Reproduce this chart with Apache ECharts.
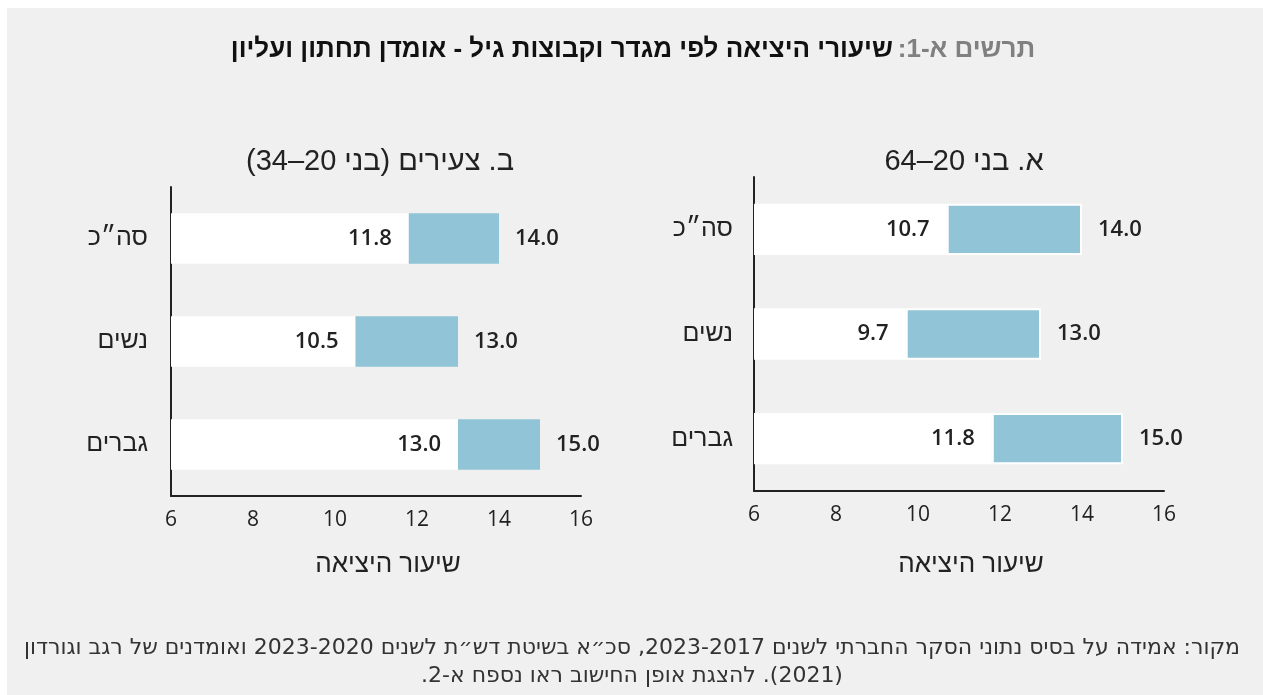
<!DOCTYPE html>
<html lang="he">
<head>
<meta charset="utf-8">
<script src="https://cdn.jsdelivr.net/npm/echarts@6/dist/echarts.min.js"></script>
<style>
  html, body { margin: 0; padding: 0; background: #fff; }
  #chart { width: 1263px; height: 695px; direction: rtl; }
</style>
</head>
<body>
<div id="chart"></div>
<script>
// קטגוריות
const categories = ['סה״כ', 'נשים', 'גברים']
// א. בני 20–64
const lowA = [10.7, 9.7, 11.8]
const highA = [14.0, 13.0, 15.0]
// ב. צעירים (בני 20–34)
const lowB = [11.8, 10.5, 13.0]
const highB = [14.0, 13.0, 15.0]
const xTicks = [6, 8, 10, 12, 14, 16]

const blue = '#90c4d6'
const ink = '#222'
const hebFont = '"Liberation Sans", "DejaVu Sans", sans-serif'
const numFont = '"Open Sans", "Liberation Sans", sans-serif'

const chart = echarts.init(document.getElementById('chart'), null, { renderer: 'canvas' })

function diff (hi, lo) {
  return hi.map((v, i) => +(v - lo[i]).toFixed(1))
}

function xAxisOf (gridIndex, gap) {
  return {
    type: 'value',
    gridIndex: gridIndex,
    min: xTicks[0],
    max: xTicks[xTicks.length - 1],
    interval: 2,
    splitLine: { show: false },
    axisTick: { show: false },
    axisLine: { show: true, lineStyle: { color: ink, width: 2 } },
    axisLabel: { color: ink, fontSize: 21, fontWeight: 500, fontFamily: numFont, margin: 14 },
    name: 'שיעור היציאה',
    nameLocation: 'middle',
    nameGap: gap,
    nameTextStyle: { color: ink, fontSize: 26, fontFamily: hebFont, padding: [0, 0, 0, 24] }
  }
}

function yAxisOf (gridIndex, margin) {
  return {
    type: 'category',
    gridIndex: gridIndex,
    data: categories,
    inverse: true,
    axisTick: { show: false },
    axisLine: { show: true, lineStyle: { color: ink, width: 2 } },
    axisLabel: { color: ink, fontSize: 25, fontFamily: hebFont, margin: margin }
  }
}

function seriesOf (idx, lo, hi, border) {
  return [
    {
      type: 'bar',
      xAxisIndex: idx,
      yAxisIndex: idx,
      stack: 'g' + idx,
      data: lo,
      barWidth: '49%',
      itemStyle: { color: '#fff' },
      label: {
        show: true,
        position: 'insideRight',
        distance: 17,
        color: ink,
        fontSize: 22,
        fontWeight: 600,
        fontFamily: numFont,
        formatter: p => lo[p.dataIndex].toFixed(1)
      },
      silent: true
    },
    {
      type: 'bar',
      xAxisIndex: idx,
      yAxisIndex: idx,
      stack: 'g' + idx,
      data: diff(hi, lo),
      barWidth: '49%',
      itemStyle: { color: blue, borderColor: '#fff', borderWidth: border },
      label: {
        show: true,
        position: 'right',
        distance: 16,
        color: ink,
        fontSize: 22,
        fontWeight: 600,
        fontFamily: numFont,
        formatter: p => hi[p.dataIndex].toFixed(1)
      },
      silent: true
    }
  ]
}

const option = {
  backgroundColor: '#fff',
  animation: false,
  graphic: [
    { type: 'rect', z: -10, shape: { x: 7, y: 8, width: 1263, height: 695 }, style: { fill: '#f0f0f0' } }
  ],
  title: [
    {
      text: '{b|שיעורי היציאה לפי מגדר וקבוצות גיל - אומדן תחתון ועליון} {g|תרשים א-1:}',
      left: 628,
      top: 32,
      textAlign: 'center',
      textStyle: {
        rich: {
          b: { color: '#111', fontSize: 26, fontWeight: 'bold', fontFamily: hebFont },
          g: { color: '#808080', fontSize: 26, fontWeight: 'bold', fontFamily: hebFont }
        }
      }
    },
    {
      text: 'ב. צעירים (בני 20–34)',
      left: 375,
      top: 142,
      textAlign: 'center',
      textStyle: { color: ink, fontSize: 29, fontWeight: 'normal', fontFamily: hebFont }
    },
    {
      text: 'א. בני 20–64',
      left: 959,
      top: 142,
      textAlign: 'center',
      textStyle: { color: ink, fontSize: 29, fontWeight: 'normal', fontFamily: hebFont }
    },
    {
      text: 'מקור: אמידה על בסיס נתוני הסקר החברתי לשנים 2023-2017, סכ״א בשיטת דש״ת לשנים 2023-2020 ואומדנים של רגב וגורדון\n(2021). להצגת אופן החישוב ראו נספח א-2.',
      left: 627,
      top: 629,
      textAlign: 'center',
      textStyle: { color: '#333', fontSize: 22, fontWeight: 'normal', lineHeight: 28, align: 'center', fontFamily: '"DejaVu Sans", "Liberation Sans", sans-serif' }
    }
  ],
  grid: [
    { left: 171, top: 187, width: 410, height: 309, containLabel: false },
    { left: 754, top: 177, width: 410, height: 314, containLabel: false }
  ],
  xAxis: [xAxisOf(0, 56), xAxisOf(1, 61)],
  yAxis: [yAxisOf(0, 23), yAxisOf(1, 21)],
  series: [].concat(seriesOf(0, lowB, highB, 0), seriesOf(1, lowA, highA, 2))
}

chart.setOption(option)
</script>
</body>
</html>
